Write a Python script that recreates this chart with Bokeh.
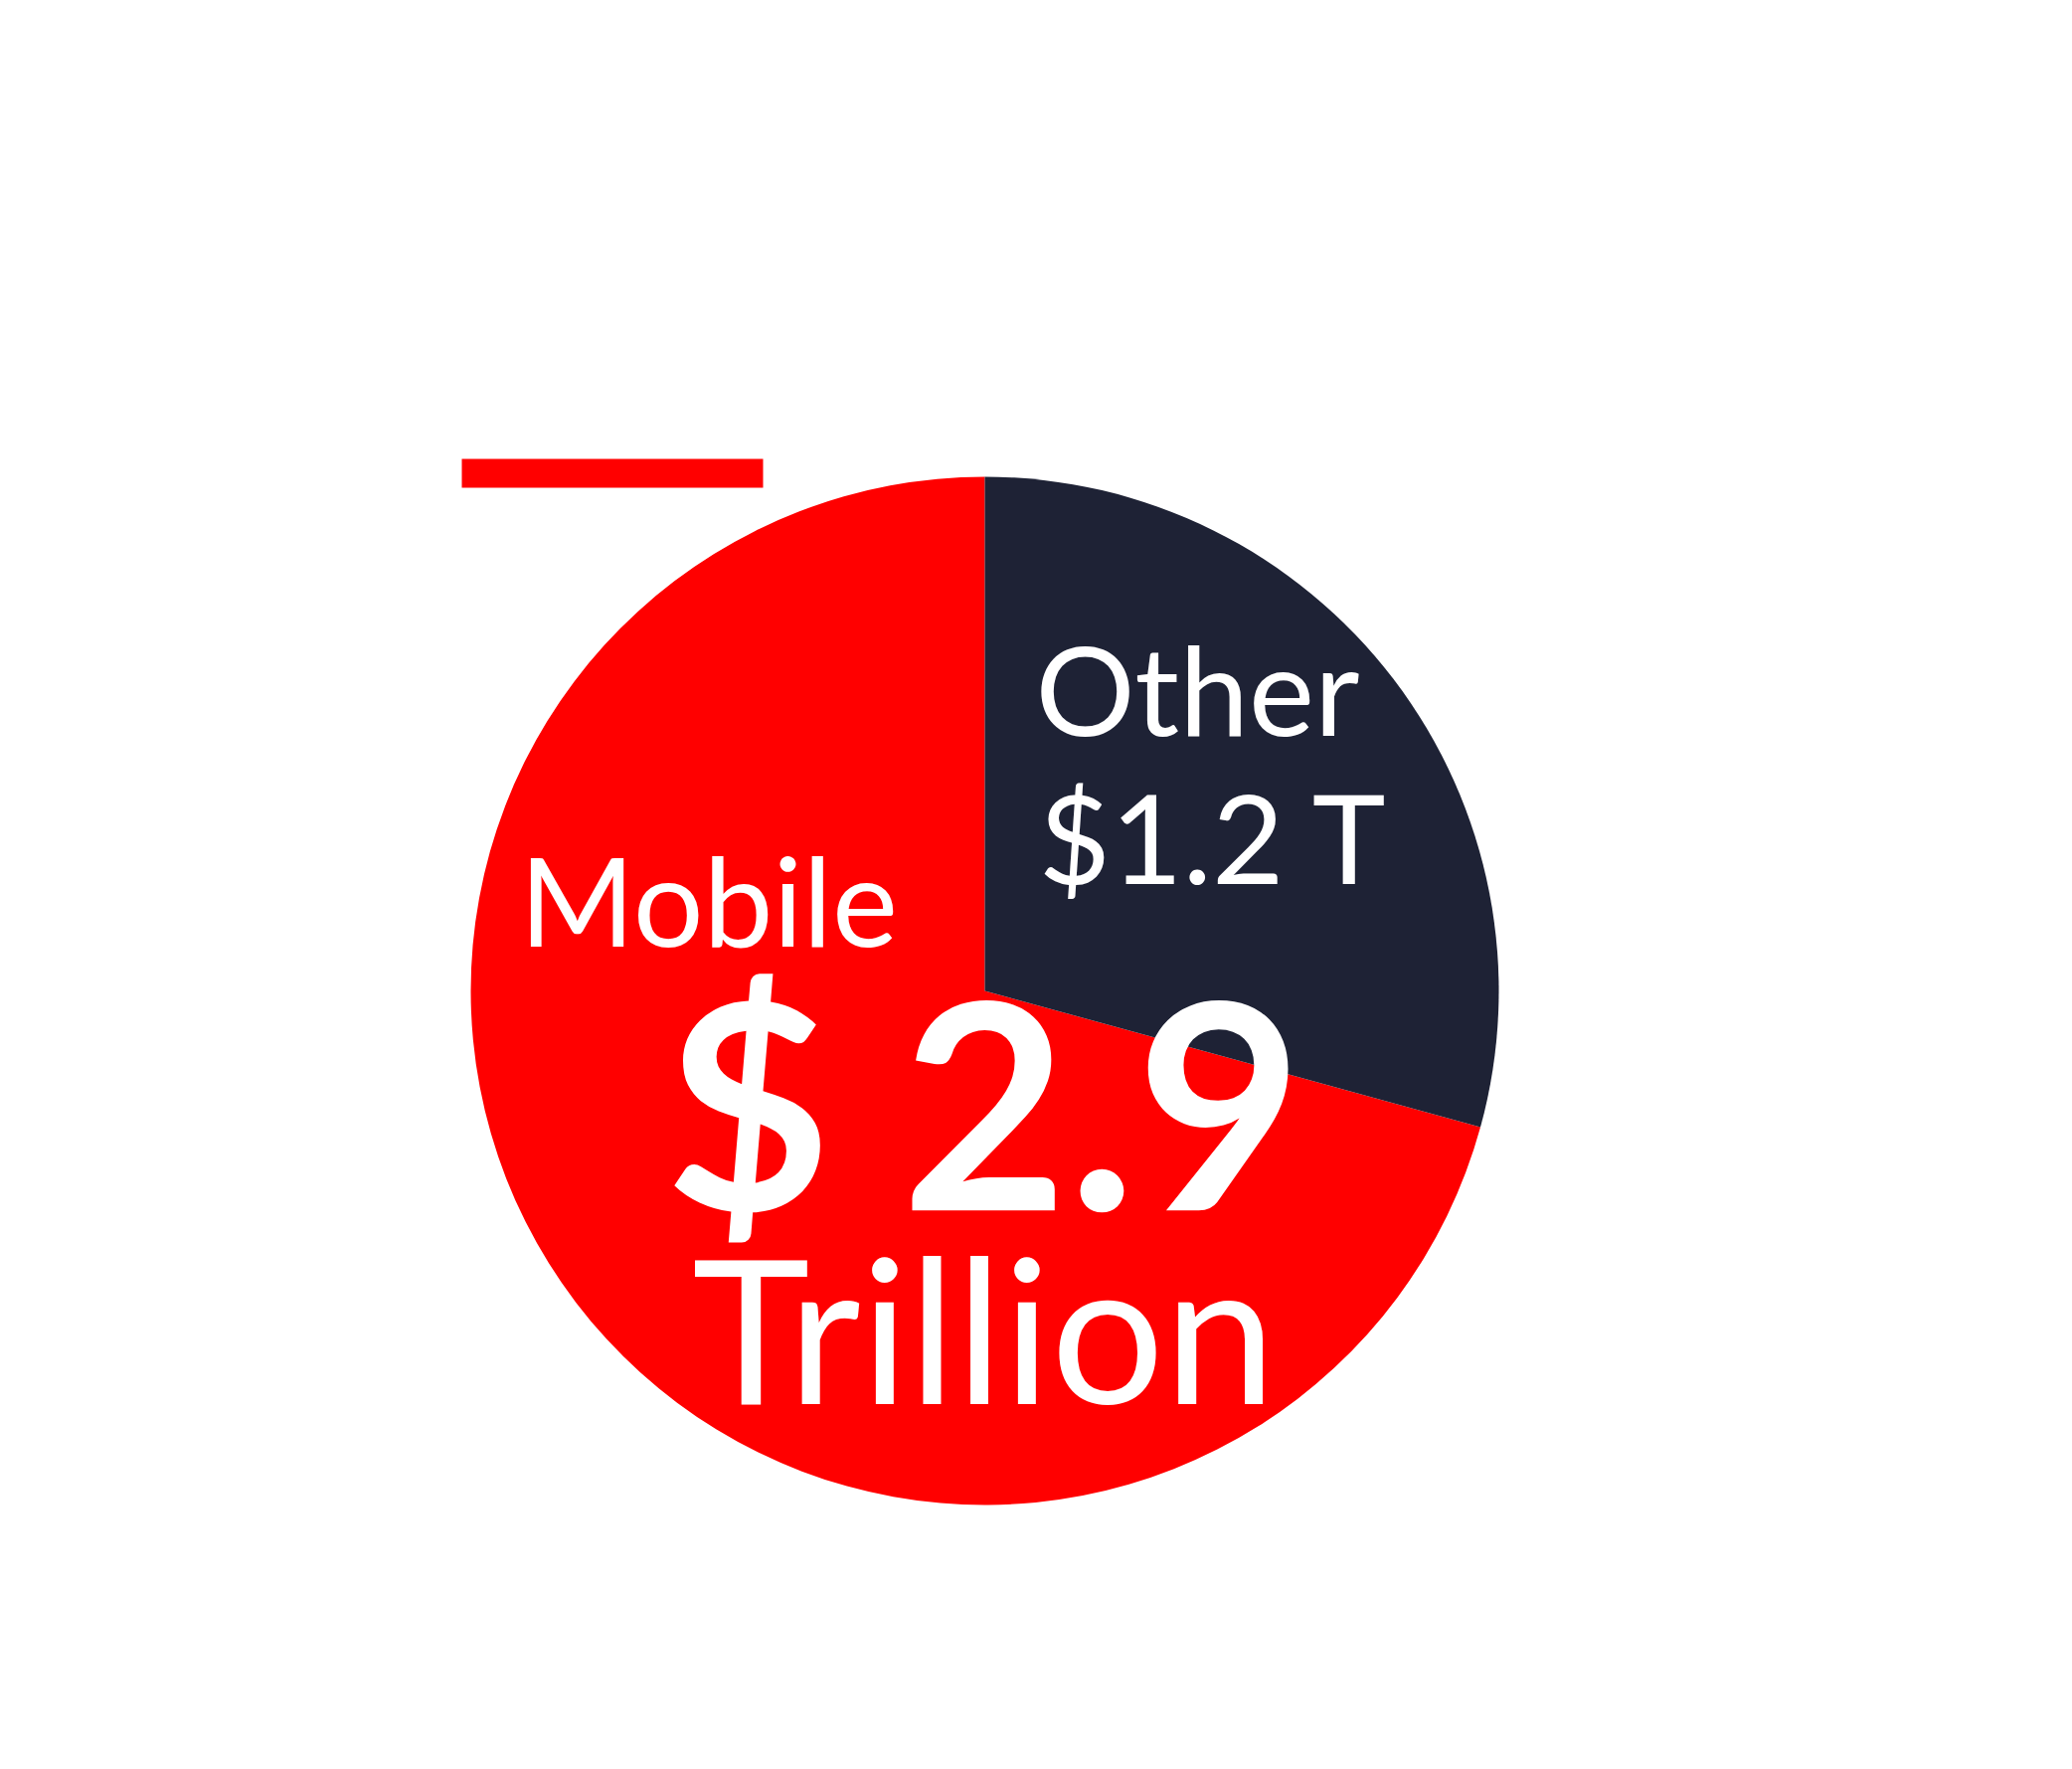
import math
from bokeh.plotting import figure
from bokeh.models import Range1d, ColumnDataSource
from bokeh.core.properties import value
from bokeh.embed import file_html
from bokeh.resources import INLINE

# ---- data ----
categories = ["Mobile", "Other"]
values = [2.9, 1.2]
colors = ["#ff0000", "#1e2235"]
big_value_label = "$ 2.9"
unit_label = "Trillion"
other_label = "Other"
other_value_label = "$1.2 T"

# ---- layout (page pixel space, y measured from the top) ----
W, H = 2084, 1779
M = 8
PW, PH = W - 2 * M, H - 2 * M

cx, cy_pix, R = 990, 996, 517
cy = H - cy_pix
BASE = 0.39  # renderer baseline correction (em)


def ty(baseline_pix, size):
    return H - (baseline_pix - BASE * size)


p = figure(width=PW, height=PH, output_backend="svg", toolbar_location=None,
           x_range=Range1d(0, PW), y_range=Range1d(H - PH, H),
           min_border=0, min_border_left=0, min_border_right=0,
           min_border_top=0, min_border_bottom=0)
p.axis.visible = False
p.grid.visible = False
p.outline_line_color = None
p.background_fill_color = "white"
p.border_fill_color = "white"

total = sum(values)
fr = [v / total for v in values]
other_start = math.pi / 2 - 2 * math.pi * fr[1]
other_end = math.pi / 2
mobile_start = math.pi / 2
mobile_end = other_start + 2 * math.pi
src = ColumnDataSource(dict(
    x=[cx, cx], y=[cy, cy],
    start=[mobile_start, other_start],
    end=[mobile_end, other_end],
    color=colors,
    cat=categories,
))
p.wedge(x="x", y="y", radius=R, start_angle="start", end_angle="end",
        direction="anticlock", fill_color="color", line_color=None, source=src)

# red accent bar
p.quad(left=[464], right=[767], top=[H - 461], bottom=[H - 490],
       fill_color="#ff0000", line_color=None)

font = value("Lato")
S_LAB, S_BIG, S_UNIT = 125, 289, 201

p.text(x=[522], y=[ty(952, S_LAB)], text=[categories[0]], text_font=font,
       text_font_size=f"{S_LAB}px", text_color="white",
       text_align="left", text_baseline="alphabetic")
p.text(x=[989], y=[ty(1218, S_BIG)], text=[big_value_label], text_font=font,
       text_font_size=f"{S_BIG}px", text_font_style="bold", text_color="white",
       text_align="center", text_baseline="alphabetic")
p.text(x=[989], y=[ty(1412, S_UNIT)], text=[unit_label], text_font=font,
       text_font_size=f"{S_UNIT}px", text_color="white",
       text_align="center", text_baseline="alphabetic")
p.text(x=[1041, 1044], y=[ty(740, S_LAB), ty(889, S_LAB)],
       text=[other_label, other_value_label],
       text_font=font, text_font_size=f"{S_LAB}px", text_color="white",
       text_align="left", text_baseline="alphabetic")

open("out.html", "w").write(file_html(p, INLINE))
